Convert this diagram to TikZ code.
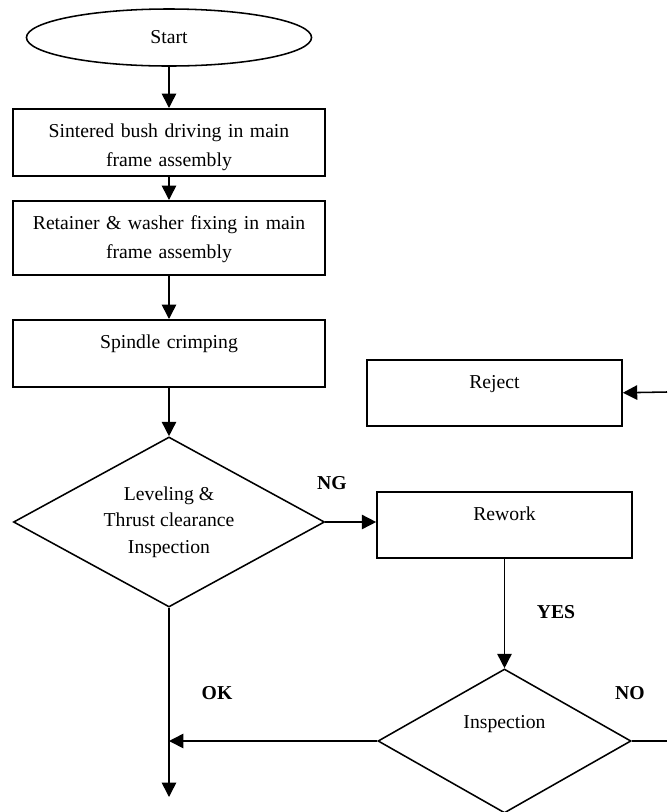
\documentclass[tikz,border=0pt]{standalone}
\usepackage{fontspec}
\setmainfont{Liberation Serif}
\usetikzlibrary{shapes.geometric,arrows.meta}

\begin{document}
\begin{tikzpicture}[x=0.025cm,y=-0.025cm,line width=1.1pt,
  every node/.style={font=\fontsize{14}{20.5}\selectfont,inner sep=0pt},
  flow/.style={-{Triangle[length=0.36cm,width=0.36cm]}},
  procbox/.style={draw,rectangle,anchor=north,align=center,text height=0.725cm},
  decision/.style={draw,diamond,align=center},
  tag/.style={font=\fontsize{14}{20}\selectfont\bfseries}]
\useasboundingbox (0,0) rectangle (667,812);
\node [draw,ellipse,minimum width=7.125cm,minimum height=1.425cm] (start) at (169,37.5) {Start};
\node [procbox,text width=7.8cm,text depth=0.95cm] (bush) at (169,108) {Sintered bush driving in main\\frame assembly};
\node [procbox,text width=7.8cm,text depth=1.125cm] (retainer) at (169,200) {Retainer \& washer fixing in main\\frame assembly};
\node [procbox,text width=7.8cm,text depth=0.95cm] (crimp) at (169,319) {Spindle crimping};
\node [decision,aspect=1.835,minimum width=7.775cm,minimum height=4.25cm,font=\fontsize{14}{19}\selectfont] (level) at (169,522) {Leveling \&\\Thrust clearance\\Inspection};
\node [procbox,text width=6.375cm,text depth=0.925cm] (reject) at (494.5,359) {Reject};
\node [procbox,text width=6.375cm,text depth=0.925cm] (rework) at (504.5,491) {Rework};
\node [decision,aspect=1.76,minimum width=6.325cm,minimum height=3.6cm,text height=0.35cm,text depth=1.0cm] (insp) at (504.5,741) {Inspection};
\coordinate (okjoin) at (level.south |- insp.west);
\coordinate (outlet) at (169,797);
\coordinate (noedge) at (667,741);
\coordinate (rejedge) at (667,392);
\draw [flow] (start) -- (bush);
\draw [flow] (bush) -- (retainer);
\draw [flow] (retainer) -- (crimp);
\draw [flow] (crimp) -- (level);
\draw [flow] (level.east) -- (level.east -| rework.west);
\draw [flow] (rework) -- (insp);
\draw [flow] (insp.west) -- (okjoin);
\draw [flow] (level.south) -- (outlet);
\draw (insp.east) -- (noedge);
\draw [flow] (rejedge) -- (reject.east);
\node [tag] (ng) at (332,483) {NG};
\node [tag] (yes) at (556,612) {YES};
\node [tag] (no) at (630,693) {NO};
\node [tag] (ok) at (217,693) {OK};
\end{tikzpicture}
\end{document}
